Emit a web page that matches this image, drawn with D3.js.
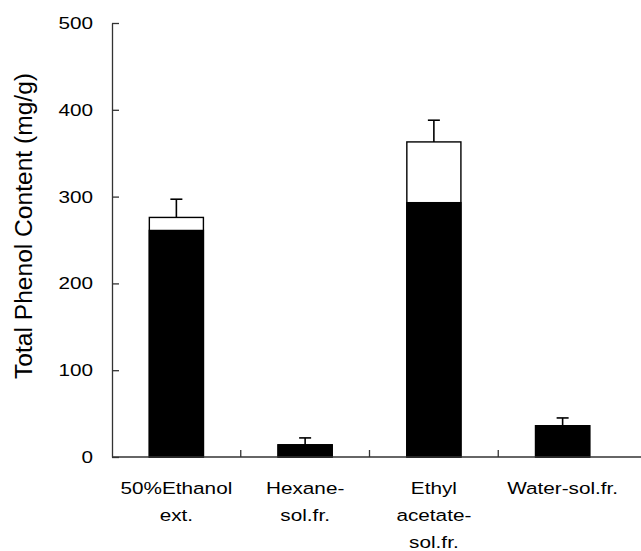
<!DOCTYPE html>
<html>
<head>
<meta charset="utf-8">
<script src="https://cdn.jsdelivr.net/npm/d3@7"></script>
<style>
    body { margin: 0; background: #fff; }
    text { font-family: "Liberation Sans", Arial, sans-serif; fill: #000; }
</style>
</head>
<body>
<script>
// data
const categories = ["50%Ethanol ext.", "Hexane-sol.fr.", "Ethyl acetate-sol.fr.", "Water-sol.fr."];
const labelLines = [["50%Ethanol", "ext."], ["Hexane-", "sol.fr."], ["Ethyl", "acetate-", "sol.fr."], ["Water-sol.fr."]];
const blackValues = [261, 14, 293, 36];
const totalValues = [276, 14, 363, 36];
const errorValues = [21, 8, 25, 9];
const yTicks = [0, 100, 200, 300, 400, 500];
const yTitle = "Total Phenol Content (mg/g)";

const width = 641, height = 551;
const stretch = 1.22; // labels in the source are a bit wide

const x = d3.scaleBand().domain(categories).range([112, 627]).paddingInner(0.58).paddingOuter(0.29);
const y = d3.scaleLinear().domain([0, 500]).range([457, 23]);

const svg = d3.select("body").append("svg")
    .attr("width", width)
    .attr("height", height);

const rows = categories.map((c, i) => ({
    name: c,
    black: blackValues[i],
    total: totalValues[i],
    err: errorValues[i],
    lines: labelLines[i]
}));

// white upper part
svg.append("g").selectAll("rect")
    .data(rows)
    .enter().append("rect")
    .attr("x", d => x(d.name))
    .attr("width", x.bandwidth())
    .attr("y", d => y(d.total))
    .attr("height", d => y(0) - y(d.total))
    .attr("fill", "#fff")
    .attr("stroke", "#000")
    .attr("stroke-width", 1.4);

// black lower part
svg.append("g").selectAll("rect")
    .data(rows)
    .enter().append("rect")
    .attr("x", d => x(d.name))
    .attr("width", x.bandwidth())
    .attr("y", d => y(d.black))
    .attr("height", d => y(0) - y(d.black))
    .attr("fill", "#000")
    .attr("stroke", "#000")
    .attr("stroke-width", 1.4);

// error bars, upward only
const err = svg.append("g")
    .attr("stroke", "#000")
    .attr("stroke-width", 1.6)
    .selectAll("g")
    .data(rows)
    .enter().append("g")
    .attr("transform", d => "translate(" + (x(d.name) + x.bandwidth() / 2) + ",0)");

err.append("line")
    .attr("y1", d => y(d.total))
    .attr("y2", d => y(d.total + d.err));

err.append("line")
    .attr("x1", -6)
    .attr("x2", 6)
    .attr("y1", d => y(d.total + d.err))
    .attr("y2", d => y(d.total + d.err));

// y axis, ticks pointing inward
const yAxis = d3.axisLeft(y).tickValues(yTicks).tickSizeInner(-7).tickSizeOuter(0).tickPadding(19);
const gy = svg.append("g")
    .attr("transform", "translate(112,0)")
    .call(yAxis);
gy.select(".domain").attr("stroke", "#333").attr("stroke-width", 1.3);
gy.selectAll(".tick line").attr("stroke", "#333").attr("stroke-width", 1.3);
gy.selectAll(".tick text")
    .attr("font-size", 17)
    .attr("font-family", "Liberation Sans, Arial, sans-serif")
    .attr("x", -19 / stretch)
    .attr("transform", "scale(" + stretch + ",1)");

// x axis line and separators between categories
const step = x.step();
const gx = svg.append("g").attr("stroke", "#333").attr("stroke-width", 1.3);
gx.append("line")
    .attr("x1", 112).attr("x2", width)
    .attr("y1", y(0)).attr("y2", y(0));
gx.selectAll("line.sep")
    .data(categories.slice(1))
    .enter().append("line")
    .attr("class", "sep")
    .attr("x1", d => x(d) - x.paddingInner() * step / 2)
    .attr("x2", d => x(d) - x.paddingInner() * step / 2)
    .attr("y1", y(0))
    .attr("y2", y(0) - 7);

// category labels
const lab = svg.append("g").selectAll("g")
    .data(rows)
    .enter().append("g")
    .attr("transform", d => "translate(" + (x(d.name) + x.bandwidth() / 2) + ",494) scale(" + stretch + ",1)");

lab.selectAll("text")
    .data(d => d.lines)
    .enter().append("text")
    .attr("text-anchor", "middle")
    .attr("font-size", 17)
    .attr("y", (d, i) => i * 26.8)
    .text(d => d);

// y title
svg.append("text")
    .attr("transform", "translate(32,226) rotate(-90)")
    .attr("text-anchor", "middle")
    .attr("font-size", 23)
    .attr("textLength", 306)
    .attr("lengthAdjust", "spacingAndGlyphs")
    .text(yTitle);
</script>
</body>
</html>
